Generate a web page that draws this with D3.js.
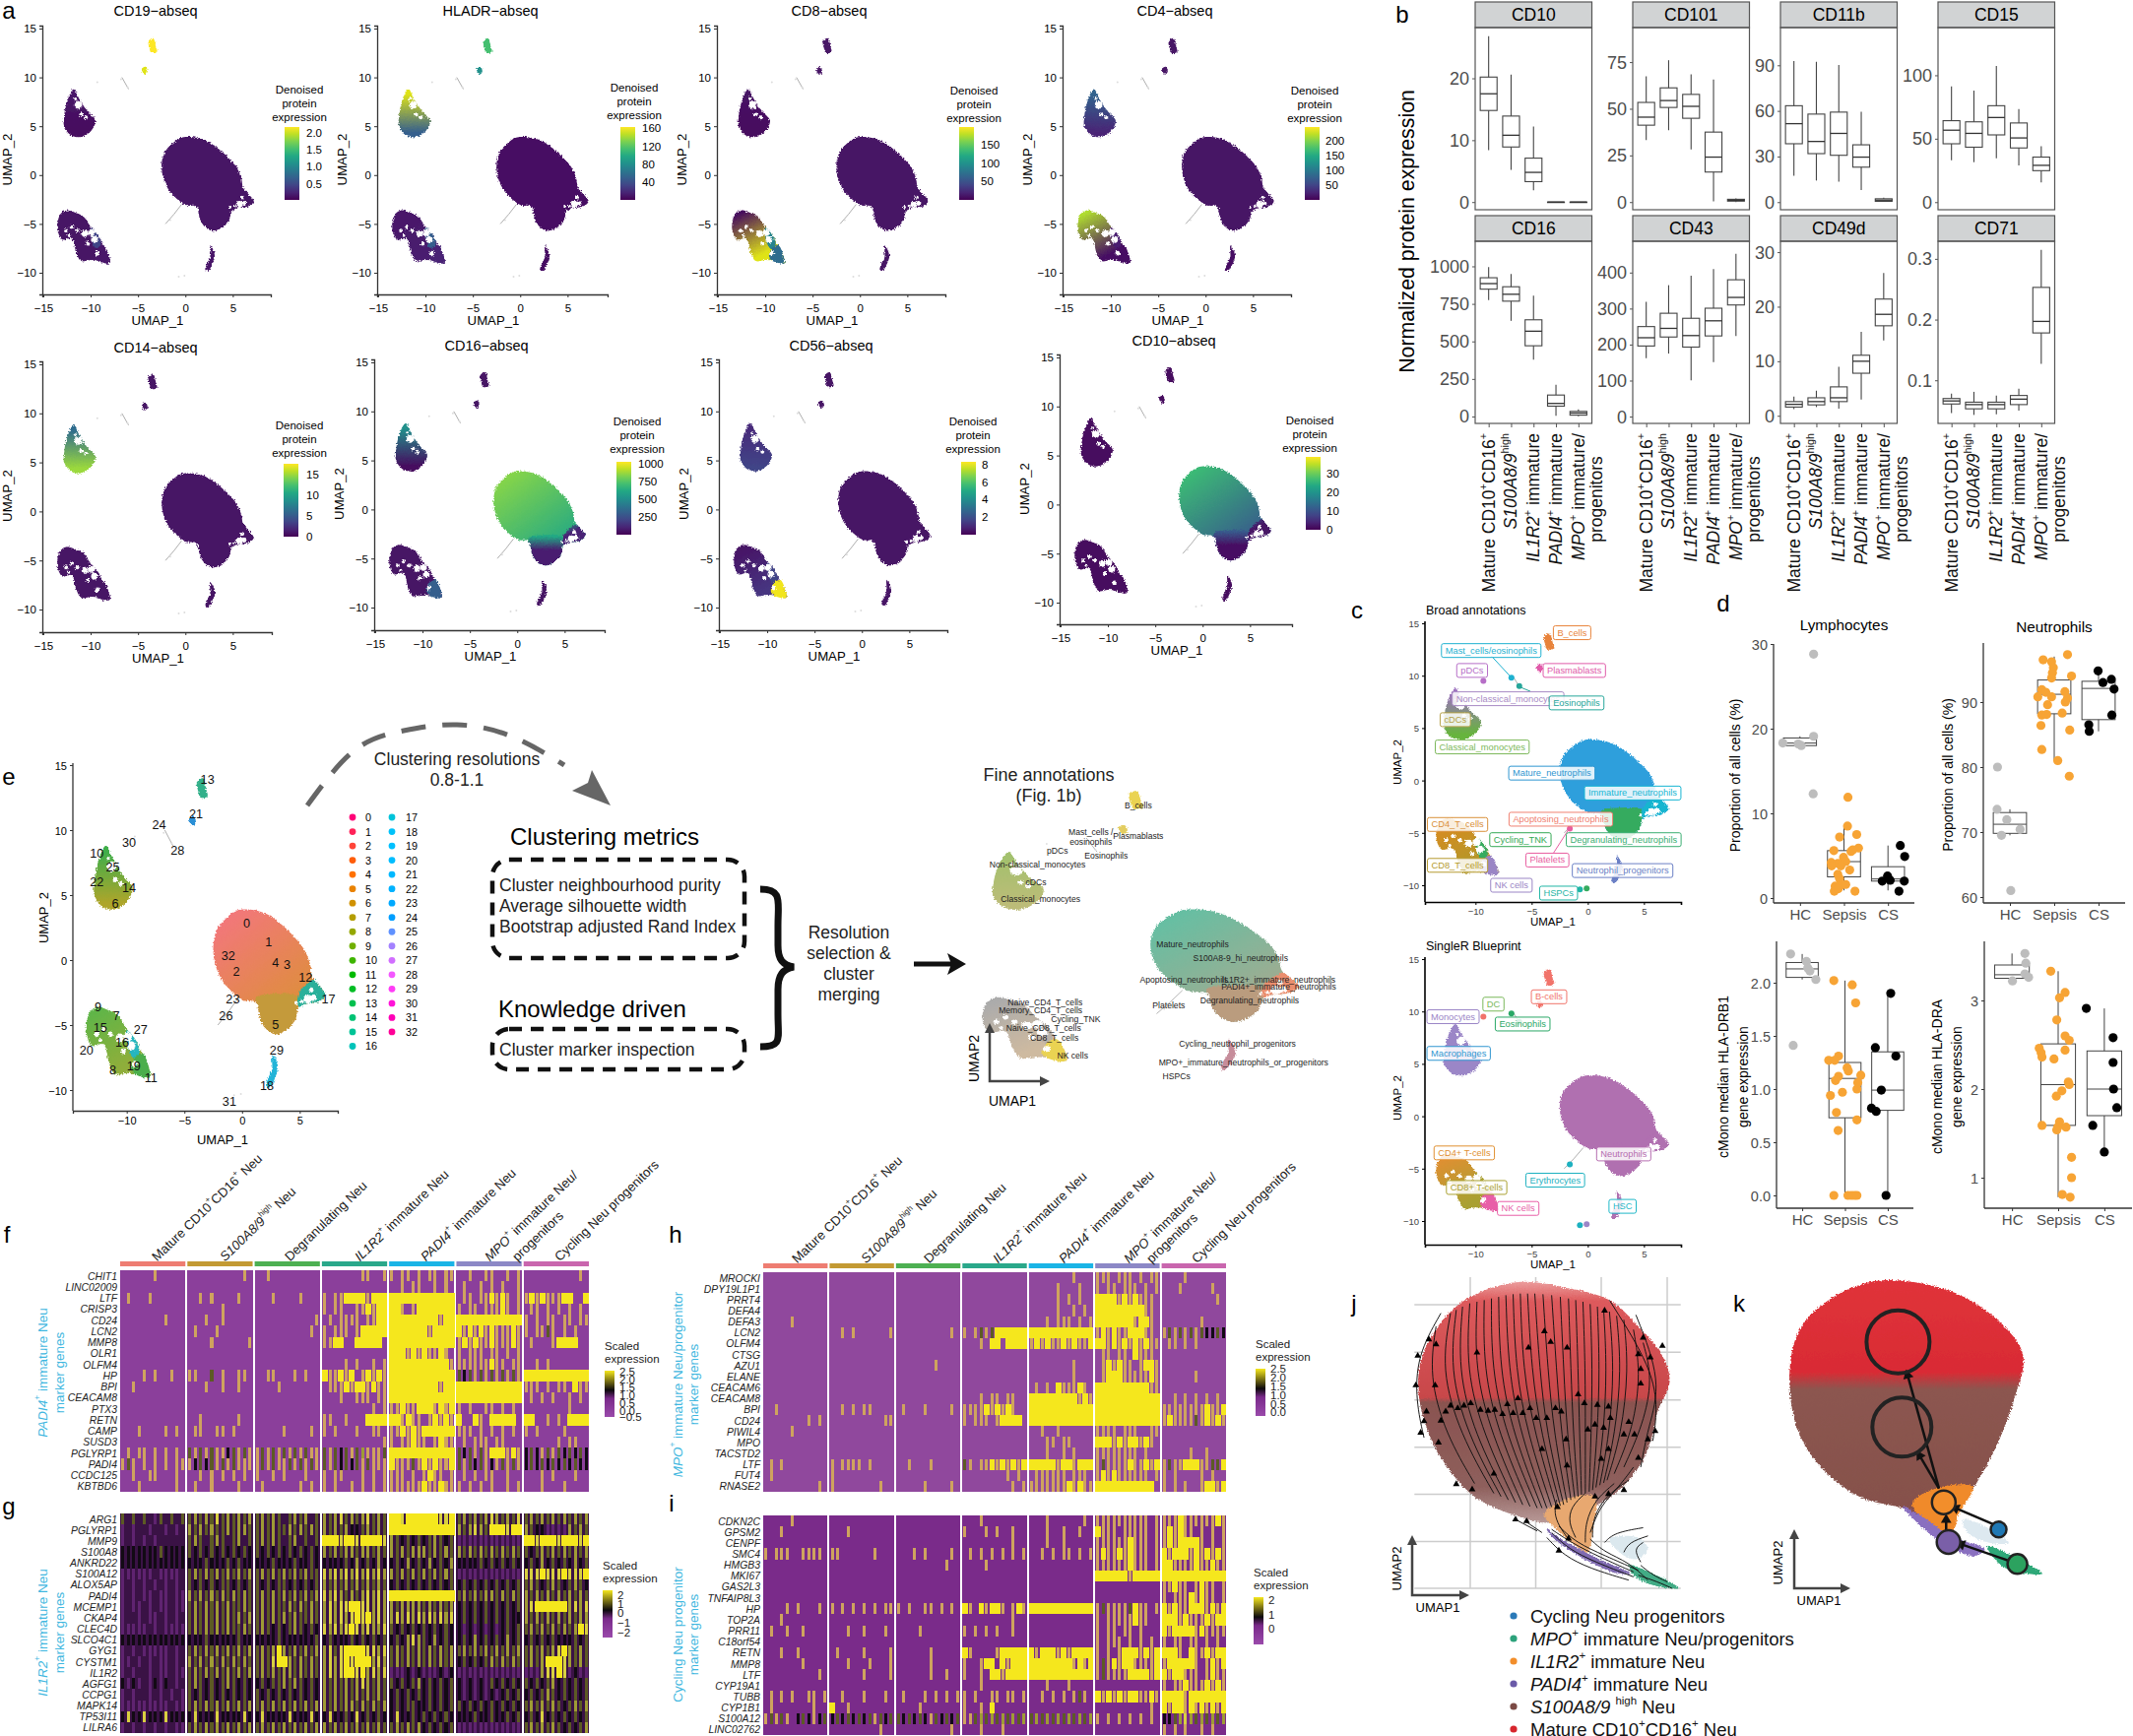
<!DOCTYPE html>
<html>
<head>
<meta charset="utf-8">
<script src="https://cdn.jsdelivr.net/npm/d3@7"></script>
<style>
  body { margin: 0; background: #fff; }
  svg { display: block; font-family: "Liberation Sans", Arial, sans-serif; }
  text { dominant-baseline: central; }
</style>
</head>
<body>
<svg id="fig" width="2166" height="1763"></svg>
<script>
// ---------- panel a: marker UMAPs
const markerNames = ["CD19", "HLADR", "CD8", "CD4", "CD14", "CD16", "CD56", "CD10"];
const markerTicks = [[0.5, 1, 1.5, 2], [40, 80, 120, 160], [50, 100, 150], [50, 100, 150, 200], [0, 5, 10, 15], [250, 500, 750, 1000], [2, 4, 6, 8], [0, 10, 20, 30]];
const markerTickFormat = [".1f", "d", "d", "d", "d", "d", "d", "d"];
const markerDomains = [[.03, 2.16], [0, 163], [0, 199], [0, 247], [0, 17.7], [0, 1030], [0, 8.3], [0, 39.2]];
// order follows regionNames below, value is position on viridis
const regionNames = ["neutTop", "neutLow", "degran", "tail", "monoTop", "monoLow", "tTop", "tLow", "cyc", "nk", "b", "plasma", "prog"];
const markerShades = [
  [.05, .05, .05, .05, .06, .03, .05, .05, .2, .06, 1, .95, .06],
  [.04, .04, .04, .04, .95, .3, .06, .08, .3, .1, .7, .5, .04],
  [.05, .05, .05, .05, .05, .03, .03, .95, .45, .35, .05, .05, .05],
  [.05, .05, .05, .05, .32, .1, .88, .04, .08, .04, .05, .05, .04],
  [.05, .05, .05, .05, .35, .85, .05, .05, .05, .05, .05, .05, .05],
  [.82, .6, .08, .1, .5, .03, .05, .05, .05, .3, .05, .05, .05],
  [.05, .05, .05, .05, .12, .2, .05, .15, .2, .98, .05, .05, .05],
  [.68, .28, .04, .05, .03, .03, .03, .03, .03, .03, .03, .03, .03]
];

// UMAP outlines
const outlineNeut = [[.5, 3.9], [2, 3.6], [3.2, 2.9], [4.4, 1.9], [5.4, .8], [5.9, -.3], [6.1, -1.3], [6.6, -1.9], [7.2, -2.7], [6.6, -3.2], [5.4, -3.4], [4.9, -3.6], [4.6, -4.6], [3.8, -5.4], [2.9, -5.7], [2.1, -5.3], [1.6, -4.6], [1.4, -3.8], [1.1, -3.2], [.1, -3.1], [-.7, -2.6], [-1.7, -1.6], [-2.3, -.4], [-2.5, 1], [-2.2, 2.3], [-1.4, 3.2], [-.5, 3.8]];
const outlineDegran = [[1.2, -2.9], [3, -2.6], [4.8, -2.8], [4.8, -3.7], [4.6, -4.6], [3.8, -5.4], [2.9, -5.7], [2.1, -5.3], [1.6, -4.6], [1.4, -3.8]];
const outlineTail = [[4.9, -2.6], [5.6, -1.9], [6.2, -1.5], [6.6, -1.9], [7.2, -2.7], [6.6, -3.2], [5.4, -3.4], [4.9, -3.6]];
const outlineMono = [[-11.8, 8.8], [-11.2, 7.8], [-10.4, 6.6], [-9.5, 5.6], [-9.9, 4.6], [-11, 3.9], [-12.1, 4.1], [-12.8, 5], [-12.8, 6], [-12.5, 7.5]];
const outlineT = [[-13.2, -4], [-12.5, -3.6], [-11.5, -3.9], [-10.8, -4.2], [-10, -5.3], [-9.2, -6.2], [-8.8, -7], [-8.1, -8.2], [-8, -9], [-9, -8.8], [-10, -8.7], [-11, -8.8], [-11.5, -8], [-12, -6.5], [-13, -6.6], [-13.5, -5.5]];
const outlineCyc = [[-10, -5.4], [-9.2, -6.2], [-8.9, -7], [-9.3, -7.6], [-9.8, -7]];
const outlineNk = [[-9.2, -7.4], [-8.6, -7.2], [-8.1, -8.2], [-8, -9], [-9, -8.9], [-9.6, -8.4]];
const outlineB = [[-3.9, 13.7], [-3.4, 14], [-3.1, 13.1], [-3, 12.6], [-3.6, 12.5], [-3.8, 13]];
const outlinePlasma = [[-4.6, 10.9], [-4.2, 11.1], [-4, 10.6], [-4.3, 10.3]];
const outlineProg = [[2.6, -7.2], [2.9, -7.6], [3.1, -8.3], [2.8, -9.2], [2.4, -9.8], [2.1, -9.7], [2.3, -9], [2.6, -8.4], [2.6, -7.8]];
const umapHoles = [[-11.3, 7.2, .4], [-11, 6.2, .2], [-10.5, 5.9, .2], [-11.6, 7.8, .15], [-12, -5.3, .2], [-12.6, -5.7, .2], [-11.4, -5.7, .2], [-10.6, -6, .35], [-9.9, -5.9, .35], [-9.6, -6.6, .35], [-10.3, -7, .22], [-9.3, -8, .25], [-12.3, -6.2, .15], [5.7, -3, .35], [6.2, -2.9, .25], [6, -2.3, .2], [5.2, -3.2, .15], [1.3, -3.5, .12], [4.7, -3.3, .15]];
const umapDots = [[-9.3, 9.5], [-6.8, 9.8], [-6.1, 9], [-1.6, -4.6], [-.7, -10.4], [-.1, -10.3]];
const umapWisps = [[[-6.7, 10], [-6, 8.8]], [[-2.1, -5], [-1.2, -4], [-.4, -3]]];

// panel c, e fills in regionNames order
const fillsBroad = ["#2f9fdc", "#2f9fdc", "#35ab5e", "#17b5d0", "#9c72be", "#66b43c", "#d98a20", "#b2982a", "#35ab5e", "#9a85c5", "#e8833a", "#e05aa9", "#6a7fc5"];
const fillsBlueprint = ["#b06fb0", "#b06fb0", "#b06fb0", "#b06fb0", "#9b86c7", "#9b86c7", "#e08f30", "#a9a030", "#a9a030", "#e85fa8", "#f1736a", "#f1736a", "#b06fb0"];
const fillsClusters = ["#f2777a", "#dd8f3a", "#c49a3a", "#29b09a", "#3fae4a", "#aea52a", "#5fb548", "#8fae3a", "#27b6c0", "#4cae4c", "#33b08a", "#2a8fd6", "#22b4d8"];
const fillsFine = ["#55b899", "#9aa284", "#b39271", "#e9825f", "#9abb5e", "#b5b56a", "#a3a3a3", "#c9b396", "#b0a8a0", "#e8cf40", "#e8cf40", "#e0c850", "#c08090"];
const dotsBroad = ["#b66ec7", "#1fb1d0", "#26a69a", "#e85ea0", "#1fb5a5", "#35ab5e"];
const dotsBlueprint = ["#f1736a", "#2aa866", "#2aa866", "#1db1c0", "#1db1c0", "#9b86c7"];

const labelsBroad = [["B_cells", -1.4, 14.1, "#e8833a"], ["Mast_cells/eosinophils", -8.6, 12.4, "#1fb1d0"], ["pDCs", -10.3, 10.5, "#b66ec7"], ["Plasmablasts", -1.2, 10.5, "#e05aa9"], ["Non-classical_monocytes", -7.1, 7.8, "#a889c4"], ["Eosinophils", -1, 7.4, "#26a69a"], ["cDCs", -11.8, 5.8, "#b5a24a"], ["Classical_monocytes", -9.4, 3.2, "#7cb85a"], ["Mature_neutrophils", -3.2, .7, "#2f96d0"], ["Immature_neutrophils", 4, -1.2, "#17b5d2"], ["Apoptosing_neutrophils", -2.4, -3.7, "#f08070"], ["CD4_T_cells", -11.6, -4.2, "#d9903a"], ["Cycling_TNK", -6, -5.65, "#33a853"], ["Degranulating_neutrophils", 3.2, -5.65, "#3aae72"], ["CD8_T_cells", -11.6, -8.1, "#b59a2e"], ["Platelets", -3.6, -7.6, "#e85ea0"], ["Neutrophil_progenitors", 3.1, -8.6, "#6a7fc5"], ["NK cells", -6.8, -10, "#9a85c5"], ["HSPCs", -2.6, -10.75, "#1fb5a5"]];
const linksBroad = [[[-8.6, 11.9], [-6.7, 9.7], "#1fb1d0"], [[-6, 8.9], [-5.1, 8.5], "#26a69a"], [[-3.1, -7], [-1.6, -4.5], "#e85ea0"]];
const labelsBlueprint = [["B-cells", -3.45, 11.4, "#f1736a"], ["DC", -8.4, 10.7, "#7ab85a"], ["Monocytes", -12, 9.5, "#9b86c7"], ["Eosinophils", -5.8, 8.8, "#2aa866"], ["Macrophages", -11.5, 6, "#2f96d0"], ["Neutrophils", 3.2, -3.6, "#b56db0"], ["CD4+ T-cells", -11, -3.5, "#e08f30"], ["CD8+ T-cells", -9.9, -6.8, "#a9a030"], ["Erythrocytes", -2.9, -6.1, "#1db1c0"], ["NK cells", -6.2, -8.8, "#e85fa8"], ["HSC", 3.1, -8.6, "#1fb8c8"]];

// ---------- panel e
const clusterLabels = [["0", .4, 2.8], ["1", 2.3, 1.4], ["32", -1.2, .3], ["4", 2.9, -.25], ["3", 3.9, -.4], ["2", -.5, -.9], ["12", 5.5, -1.4], ["17", 7.5, -3], ["23", -.8, -3], ["26", -1.4, -4.3], ["5", 2.9, -5], ["29", 3, -7], ["18", 2.15, -9.7], ["31", -1.1, -10.9], ["13", -3, 13.9], ["21", -4, 11.2], ["24", -7.2, 10.4], ["28", -5.6, 8.4], ["30", -9.8, 9], ["10", -12.6, 8.2], ["25", -11.2, 7.1], ["22", -12.6, 6], ["14", -9.8, 5.5], ["6", -11, 4.3], ["9", -12.5, -3.6], ["7", -10.9, -4.3], ["15", -12.3, -5.2], ["27", -8.8, -5.4], ["16", -10.4, -6.4], ["20", -13.5, -7], ["19", -9.4, -8.2], ["8", -11.2, -8.5], ["11", -7.9, -9.1]];
const fineLabels = [["B_cells", -3.3, 12.8], ["Mast_cells /", -6.4, 10.5], ["eosinophils", -6.4, 9.7], ["Plasmablasts", -3.3, 10.2], ["pDCs", -8.6, 8.9], ["Eosinophils", -5.4, 8.5], ["Non-classical_monocytes", -9.9, 7.7], ["cDCs", -10, 6.2], ["Classical_monocytes", -9.7, 4.8], ["Mature_neutrophils", .26, .9], ["S100A8-9_hi_neutrophils", 3.4, -.25], ["Apoptosing_neutrophils", -.3, -2.1], ["IL1R2+_immature_neutrophils", 5.9, -2.1], ["PADI4+_immature_neutrophils", 5.9, -2.7], ["Degranulating_neutrophils", 4, -3.9], ["Platelets", -1.3, -4.3], ["Naive_CD4_T_cells", -9.4, -4], ["Memory_CD4_T_cells", -9.7, -4.7], ["Cycling_TNK", -7.4, -5.5], ["Naive_CD8_T_cells", -9.5, -6.2], ["CD8_T_cells", -8.8, -7.1], ["NK cells", -7.6, -8.6], ["Cycling_neutrophil_progenitors", 3.2, -7.6], ["MPO+_immature_neutrophils_or_progenitors", 3.6, -9.2], ["HSPCs", -.8, -10.3]];

// ---------- panel b: boxes are [low, q1, median, q3, high]
const facetNames = ["CD10", "CD101", "CD11b", "CD15", "CD16", "CD43", "CD49d", "CD71"];
const facetDomains = [[-1.24, 28.2], [-4.1, 93.5], [-5, 114.8], [-6, 137.6], [-46, 1167], [-19, 487], [-1.4, 32], [.029, .329]];
const facetTicks = [[0, 10, 20], [0, 25, 50, 75], [0, 30, 60, 90], [0, 50, 100], [0, 250, 500, 750, 1000], [0, 100, 200, 300, 400], [0, 10, 20, 30], [.1, .2, .3]];
const boxCD10 = [[8.4, 14.8, 17.5, 20.2, 26.8], [5.2, 8.9, 10.8, 13.9, 20.6], [1.9, 3.3, 4.8, 7.1, 12.2], [0, 0, 0, 0, 0], [0, 0, 0, 0, 0]];
const boxCD101 = [[33.2, 41.2, 45.5, 53.4, 67.4], [38.5, 50.7, 54.4, 61.2, 76], [28.2, 44.9, 51.3, 57.7, 68.4], [.4, 16.1, 24.1, 37.5, 65.7], [0, .5, 1, 1.5, 2]];
const boxCD11b = [[17.4, 38.4, 51.6, 63.4, 92.8], [14.2, 31.9, 39.9, 57.9, 92.3], [13.4, 30.8, 45.2, 59.2, 90.2], [8, 23, 29.6, 37.7, 59.4], [.2, .5, 1.3, 2.2, 3]];
const boxCD15 = [[33, 46, 56.7, 64.2, 91.2], [31.5, 43.3, 54.2, 63.3, 87.9], [34.5, 53, 66.7, 76, 107.3], [29, 42.7, 50.6, 62.4, 73.3], [15.5, 24.8, 29, 35.5, 44]];
const boxCD16 = [[775, 848, 885, 924, 995], [637, 768, 814, 864, 949], [379, 471, 568, 644, 805], [5, 69, 87, 143, 211], [2, 9, 23, 34, 48]];
const boxCD43 = [[162, 196, 219, 250, 319], [175, 221, 245, 287, 365], [101, 193, 225, 273, 391], [151, 224, 266, 301, 410], [224, 310, 331, 380, 452]];
const boxCD49d = [[1.2, 1.6, 2.1, 2.6, 3.5], [1.6, 2, 2.6, 3.3, 4.6], [1.3, 2.6, 3.3, 5.3, 9], [3, 7.8, 10, 11.1, 15.4], [13.8, 16.5, 18.6, 21.4, 26.2]];
const boxCD71 = [[.046, .061, .066, .070, .078], [.043, .053, .060, .064, .081], [.044, .053, .060, .064, .075], [.050, .060, .069, .075, .086], [.127, .178, .197, .253, .315]];
const facetBoxes = [boxCD10, boxCD101, boxCD11b, boxCD15, boxCD16, boxCD43, boxCD49d, boxCD71];
const facetCats = ["Mature", "S100", "IL1R2", "PADI4", "MPO"];
const facetCatLabels = ["Mature CD10^+^CD16^+^", "*S100A8/9*^high^", "*IL1R2*^+^ immature", "*PADI4*^+^ immature", "*MPO*^+^ immature/"];

// ---------- panel d: points are [offset inside the category, value]
const groupCats = ["HC", "Sepsis", "CS"];
const groupColours = ["#bdbdbd", "#f7a435", "#000000"];
const lymphPts = [
  [[-.39, 18.3], [-.04, 18.2], [.03, 18], [.31, 19.1], [.3, 12.3], [.31, 28.8]],
  [[.09, 11.9], [.08, 8.5], [-.1, 7.2], [.29, 7.5], [-.23, 5.6], [.33, 5.9], [.16, 5.5], [-.01, 4.8], [-.29, 4.2], [-.14, 4.1], [.04, 4.3], [-.28, 3.8], [-.07, 3.8], [.13, 3.3], [-.14, 2.8], [-.1, 2.3], [-.2, 1.4], [-.07, 1.5], [.04, 1.6], [-.22, .8], [.25, .8], [-.13, 1.1], [.2, 5.7]],
  [[.28, 6.2], [.38, 4.9], [-.13, 2], [-.01, 2.6], [.05, 2.1], [.37, 2], [.25, .8]]
];
const lymphBox = [[17.9, 18, 18.3, 18.9, 19.1], [.9, 2.5, 4.3, 5.6, 8.5], [.9, 2, 2.25, 3.7, 6.2]];
const neutPts = [
  [[-.28, 80], [-.29, 73.5], [-.07, 71.9], [.23, 70.4], [-.19, 69.5], [.02, 61]],
  [[.3, 97.3], [-.25, 96.5], [-.06, 96.2], [-.02, 95.3], [-.04, 94.5], [-.06, 93.7], [.39, 94], [-.28, 91.9], [-.19, 91.5], [-.37, 90.8], [-.06, 90.8], [.24, 91.6], [.3, 90.6], [-.15, 89.6], [.25, 90], [-.28, 88], [-.17, 88.1], [.18, 88.3], [-.3, 86.4], [.35, 85.7], [-.28, 82.7], [.08, 81], [.34, 78.6]],
  [[-.01, 94.8], [.29, 93.5], [.1, 93], [.35, 92], [.3, 88], [-.22, 86.5], [-.21, 85.5]]
];
const neutBox = [[69.5, 69.8, 71.2, 73, 73.5], [81, 88.2, 91.2, 93.4, 97], [85.5, 87.3, 92.1, 93.2, 94.8]];
const drb1Pts = [
  [[-.27, 2.27], [.1, 2.2], [.13, 2.14], [.18, 2.11], [.32, 2.03], [-.21, 1.41]],
  [[-.26, 2.02], [.17, 1.98], [.25, 1.81], [-.15, 1.31], [-.38, 1.27], [-.24, 1.27], [.05, 1.2], [.08, 1.17], [-.15, 1.12], [.37, 1.13], [-.22, 1.08], [.3, 1.06], [.28, 1], [-.06, .97], [-.34, .94], [-.2, .78], [.28, .71], [-.16, .61], [-.26, 0], [.07, 0], [.15, 0], [.22, 0], [.28, 0]],
  [[.07, 1.9], [-.29, 1.39], [.19, 1.31], [-.15, .99], [-.38, .82], [-.27, .79], [-.04, 0]]
];
const drb1Box = [[2.03, 2.05, 2.13, 2.19, 2.27], [0, .73, 1.1, 1.25, 2.02], [0, .8, .99, 1.35, 1.9]];
const draPts = [
  [[.28, 3.53], [.3, 3.42], [.28, 3.3], [.36, 3.26], [.01, 3.22]],
  [[-.16, 3.33], [.15, 3.09], [.03, 3.03], [-.03, 2.78], [.15, 2.6], [.24, 2.55], [-.41, 2.46], [-.37, 2.41], [-.35, 2.36], [.15, 2.44], [-.09, 2.34], [.22, 2.08], [.24, 2.05], [.08, 1.98], [-.04, 1.92], [-.35, 1.59], [.03, 1.63], [-.01, 1.57], [.17, 1.57], [-.03, 1.54], [.29, 1.23], [.29, 1], [.09, .81], [.26, .78]],
  [[-.39, 2.91], [.19, 2.58], [.19, 2.3], [.2, 2], [.27, 1.79], [-.25, 1.59], [0, 1.29]]
];
const draBox = [[3.22, 3.25, 3.29, 3.4, 3.53], [.78, 1.59, 2.05, 2.51, 3.33], [1.29, 1.7, 2, 2.43, 2.91]];

// ---------- heatmaps, one string per gene, one block per cell group, read left to right
// 0 row colour, 1 purple, 2 black, 3 olive, 4 bright olive, 5 tan, 6 pale yellow, 7 yellow
const heatGroups = ["Mature CD10^+^CD16^+^ Neu", "*S100A8/9*^high^ Neu", "Degranulating Neu", "*IL1R2*^+^ immature Neu", "*PADI4*^+^ immature Neu", "*MPO*^+^ immature Neu/", "Cycling Neu progenitors"];
const heatGroupColours = ["#ee7d72", "#c39a33", "#4db052", "#2aa88a", "#1ab4e6", "#8c88c6", "#c966ae"];
const genesF = ["CHIT1", "LINC02009", "LTF", "CRISP3", "CD24", "LCN2", "MMP8", "OLR1", "OLFM4", "HP", "BPI", "CEACAM8", "PTX3", "RETN", "CAMP", "SUSD3", "PGLYRP1", "PADI4", "CCDC125", "KBTBD6"];
const levelsF = [
  "000000500000 000000000050 005000000000 000000055005 505505055055 005005500505 000000000050",
  "0 0 0 0 005055005050 050050505005 0",
  "050005000000 005050000500 000500005000 505577775777 777777777777 055055757505 575755577007",
  "0 000000500000 000000000000 505500557577 775057777777 505505557505 055050505050",
  "000000005000 000500500000 000000000005 050555505577 777777777577 777777777777 505055055055",
  "0 050005000000 000000000050 505550577777 777777757777 757575755575 505535050500",
  "0 000050000005 0 557700777770 777777777777 575755755575 050005777700",
  "0 0 0 0 777575755750 505550550505 0",
  "0 0 0 000050500505 777777777775 555555755055 005050000000",
  "000050500500 550030500550 005500050500 755757057575 777777777777 323535353535 777777777777",
  "005000000000 000500500500 000050000000 055575775755 777777777577 777777777777 555050550755",
  "0 0 0 000500555055 777777777777 777777777777 050505005050",
  "0 0 0 000000000505 557557775757 505005505050 000000005000",
  "0 005000000500 000000000000 550050007777 775755057575 700750777770 770050507777",
  "000500005050 055005505000 000005000050 505000500550 557575777777 555050505050 505000050000",
  "0 0 0 000000000005 505575505755 050555055000 000000505500",
  "050550505050 353535523535 535353535355 353235345553 777777777777 323535777575 232535323232",
  "535050505055 523235353555 535355353535 353232353555 755535757557 353235253535 232323232322",
  "005005500050 005050505050 500505000500 505500050505 555050575505 050505500500 000505000500",
  "000500000050 050050000500 050000005050 505005050505 555555755755 505050500505 000500050000"
];
const genesG = ["ARG1", "PGLYRP1", "MMP9", "S100A8", "ANKRD22", "S100A12", "ALOX5AP", "PADI4", "MCEMP1", "CKAP4", "CLEC4D", "SLCO4C1", "GYG1", "CYSTM1", "IL1R2", "AGFG1", "CCPG1", "MAPK14", "TP53I11", "LILRA6"];
const levelsG = [
  "303030130303 343436343434 343430343403 434634346343 776777777667 343434643436 343434343434",
  "101001001010 434343343443 343433434343 434342234343 777777777777 434643777677 432211114343",
  "101010100000 343034303403 343430340303 777677677776 432323234323 111111111111 776777677767",
  "222222232222 323232323232 323232323232 434344344343 434344434343 434343434343 323434343434",
  "222222222222 222322232322 222322232232 222232423242 232423242324 222232323232 232423232423",
  "111111011110 343434343434 343434343433 646464646464 434343434343 111111111111 666766676667",
  "101010101010 323232332323 323233232323 434343434343 232323232323 232323232323 343234323432",
  "101011011011 434343434343 343434343434 646434346464 777777777777 343434434343 434343434343",
  "101101011011 343434343343 343433434343 464667766464 434444343434 232323232323 467777774646",
  "100101101010 343434343434 343434343343 464646767464 464646464646 232323232322 434343434344",
  "111110101111 343434343343 343232343232 646467646446 323232323232 212121212323 343434343476",
  "222222222222 222322222322 222232222223 232223232323 232464324232 232423232423 232323222323",
  "101011111010 343434343434 343474343434 463677776646 343434343434 343434343434 343434674343",
  "110101011010 434343434343 343677434343 464676777464 343434343434 232323434343 343477764343",
  "101001011011 343434343434 343434434343 464677674646 111212111212 111111111111 111466761211",
  "212101212010 343232343232 232334343232 434343464343 323234232323 212121323232 323234232323",
  "101001010101 323232323232 323232323232 434343434343 232323232323 212121212323 232343232323",
  "111111111011 343434343434 343434343434 434344343434 232332232323 323232323232 343434323434",
  "262262226222 262226222262 262222622262 262232623232 262232323232 222322322323 232623232323",
  "101010101011 343434343434 343434343434 434343434343 343434232323 111111111111 343434323234"
];
const genesH = ["MROCKI", "DPY19L1P1", "PRRT4", "DEFA4", "DEFA3", "LCN2", "OLFM4", "CTSG", "AZU1", "ELANE", "CEACAM6", "CEACAM8", "BPI", "CD24", "PIWIL4", "MPO", "TACSTD2", "LTF", "FUT4", "RNASE2"];
const levelsH = [
  "0 0 0 0 000000005000 555055505055 000050000000",
  "0 0 0 0 000005000500 505505550505 000500000500",
  "0 0 0 0 000005050500 777757575550 000000000050",
  "0 0 0 0 000005005050 777777777550 000000000000",
  "000005000000 0 0 0 000505550505 777777757750 000000050000",
  "0 005050000005 000000000050 505353777777 777777777777 575755777550 535353532232",
  "0 0 0 000507707777 575755757557 775757575755 055050500000",
  "0 0 0 0 0 055055075550 000000000000",
  "0 0 000000050000 0 000000005000 057575505775 000000000000",
  "0 0 0 0 000000005000 057775555575 000000500000",
  "0 0 0 0 050507555750 777777777755 000000000000",
  "0 0 0 000505505500 777777777575 777777777777 005050505050",
  "005000000000 005050550000 050005000050 555575757500 777777777777 777777777777 555555557557",
  "000000005050 000000000055 000000000000 505550577770 777777777777 777777777777 575555357575",
  "000005000000 0 0 0 005005000000 555505550055 000000000000",
  "0 0 0 0 000550550000 777575775750 000000000000",
  "0 0 0 0 000500505000 555555550500 000005005000",
  "050500000000 505555050000 005000500000 350557575757 777775775777 535555755757 535577755337",
  "050000000000 500000000000 000000000000 000000005050 055555505550 575755555505 505000050500",
  "000000000050 500000000500 000005000050 000000000505 555555575755 777777777770 505050057757"
];
const genesI = ["CDKN2C", "GPSM2", "CENPF", "SMC4", "HMGB3", "MKI67", "GAS2L3", "TNFAIP8L3", "HP", "TOP2A", "PRR11", "C18orf54", "RETN", "MMP8", "LTF", "CYP19A1", "TUBB", "CYP1B1", "S100A12", "LINC02762"];
const levelsI = [
  "000005000000 0 0 000500000000 000500000050 555555555505 555755555575",
  "000500000000 000500000000 0 500050500500 000500500500 755505555505 575755050505",
  "0 0 0 000000000500 000500500000 555555755505 575777750505",
  "505550055550 550000005000 000505000050 050505050505 005050550505 575575755505 757775757575",
  "0 0 000000000500 000050000000 0 555555755505 775555755755",
  "0 0 0 0 000000000000 777777577777 777777777777",
  "0 0 0 0 0 0 557550575505",
  "0 0 0 0 0 0 505557575505",
  "000050500050 505050505055 505005505050 750757750575 777777777777 535555375505 757557775757",
  "000500000000 0 0 000000000500 0 505555575500 777575557577",
  "050050050000 000500500050 000050000000 505050500500 0 505505505000 757777575555",
  "0 0 0 0 0 505550505050 505505505050",
  "000500500000 050000500005 000000500000 750000577777 757775757777 505057775757 777507557577",
  "000000050000 000500050005 000000500000 500577075777 777777775757 535757755557 577777505757",
  "000000000050 000000500005 000000500500 500507757777 777777777777 535555777757 757755505755",
  "0 0 0 000500000000 000500050000 000000000000 505575557575",
  "050505005505 005000500050 050005050505 505005505505 005050505350 757575775575 777757777777",
  "050000000500 700500000000 000050000000 500507000000 000000000000 000000000050 757757575757",
  "535350232523 232323235323 323232532323 553434343434 343434343434 505050505050 223464343434",
  "0 000000000500 000000000050 000500050000 000000000000 000000000000 505050050500"
];

// ---------- panels j, k: values are in plot reading units
const trajOutline = [[290, 35], [400, 55], [480, 90], [540, 170], [590, 260], [605, 340], [580, 430], [570, 500], [545, 590], [500, 670], [450, 720], [400, 745], [350, 770], [290, 750], [200, 690], [130, 570], [90, 430], [85, 300], [115, 190], [180, 90]];
const trajOrange = [[345, 745], [395, 695], [450, 690], [445, 790], [435, 860], [400, 830], [370, 790]];
const trajPurple = [[350, 790], [380, 820], [450, 875], [525, 925], [500, 925], [440, 890], [370, 825]];
const trajGreen = [[520, 900], [570, 925], [625, 970], [570, 960], [530, 930]];
const trajBlue = [[480, 820], [540, 815], [560, 850], [540, 880], [510, 870]];
const streamLines = [
  [[200, 650], [140, 500], [105, 320], [120, 170]], [[240, 680], [170, 500], [130, 300], [150, 130]], [[270, 700], [200, 500], [165, 300], [175, 110]],
  [[300, 715], [235, 500], [200, 300], [205, 95]], [[330, 725], [265, 500], [235, 300], [235, 85]], [[350, 725], [295, 500], [270, 300], [265, 75]],
  [[370, 720], [325, 500], [300, 300], [295, 70]], [[385, 715], [350, 500], [335, 300], [325, 70]], [[400, 700], [380, 500], [370, 300], [360, 75]],
  [[415, 690], [405, 500], [400, 300], [395, 85]], [[430, 680], [430, 500], [430, 300], [425, 95]], [[445, 670], [455, 500], [460, 300], [455, 110]],
  [[460, 655], [480, 500], [490, 300], [480, 125]], [[475, 640], [505, 500], [520, 300], [510, 150]], [[490, 620], [530, 480], [545, 310], [530, 180]],
  [[510, 600], [550, 470], [570, 330], [550, 220]], [[255, 690], [185, 500], [148, 300], [162, 120]], [[285, 708], [218, 500], [182, 300], [190, 100]],
  [[315, 720], [250, 500], [218, 300], [220, 90]], [[340, 725], [280, 500], [252, 300], [250, 80]], [[360, 722], [310, 500], [285, 300], [280, 72]],
  [[378, 718], [338, 500], [318, 300], [310, 70]], [[392, 708], [365, 500], [352, 300], [342, 72]], [[408, 695], [392, 500], [385, 300], [378, 80]],
  [[422, 685], [418, 500], [415, 300], [410, 90]], [[438, 675], [442, 500], [445, 300], [440, 102]], [[452, 662], [468, 500], [475, 300], [468, 118]],
  [[468, 648], [492, 500], [505, 300], [495, 138]], [[360, 800], [395, 850], [450, 890], [530, 935]], [[350, 815], [385, 870], [440, 910], [520, 945]],
  [[360, 790], [400, 830], [460, 875], [530, 920]], [[375, 780], [410, 830], [470, 870], [540, 915]], [[440, 820], [470, 860], [520, 890], [560, 945]],
  [[395, 820], [375, 780], [365, 740], [370, 700]], [[410, 815], [395, 770], [400, 720], [430, 680]], [[430, 830], [430, 770], [450, 700], [490, 650]],
  [[445, 815], [445, 760], [470, 690], [520, 640]], [[440, 800], [460, 720], [500, 660], [530, 600]], [[570, 520], [580, 430], [570, 300], [480, 90]],
  [[545, 600], [560, 480], [590, 340], [535, 135]], [[95, 510], [78, 400], [80, 260], [130, 130]], [[470, 830], [490, 800], [550, 785]],
  [[510, 860], [520, 830], [560, 810]], [[545, 890], [530, 850], [550, 830]], [[600, 950], [570, 930], [545, 900]],
  [[610, 970], [580, 950], [540, 930]], [[285, 760], [330, 795]], [[305, 765], [340, 800]]
];
const streamHeads = [[140, 430], [150, 412], [165, 420], [178, 412], [192, 405], [212, 425], [228, 428], [242, 425], [258, 438], [268, 408], [280, 435], [290, 390], [300, 435], [315, 420], [328, 450], [350, 450], [368, 420], [380, 430], [428, 405], [455, 410], [478, 415], [450, 470], [435, 485], [468, 480], [520, 462], [510, 500], [482, 450], [532, 500], [390, 515], [340, 545], [478, 545], [463, 575], [392, 595], [240, 620], [118, 350], [415, 378], [545, 345], [545, 300], [565, 265], [540, 255], [550, 205], [590, 230], [470, 122], [345, 185], [358, 218], [392, 235], [312, 235], [205, 250], [120, 225], [105, 210], [82, 260], [78, 350], [100, 430], [95, 460], [88, 495], [130, 458], [125, 525], [162, 652], [195, 668], [285, 760], [308, 765], [372, 722], [478, 682], [510, 670], [450, 690], [395, 818], [375, 855], [540, 572], [560, 515], [575, 490]];
const trajGridX = [191, 327, 463, 600];
const trajGridY = [104, 249, 395, 539, 683, 827, 970];

const kOutline = [[1055, 30], [1200, 70], [1300, 170], [1340, 260], [1320, 400], [1280, 550], [1230, 680], [1200, 740], [1150, 770], [1100, 730], [1000, 690], [920, 600], [870, 480], [855, 300], [880, 170], [960, 70]];
const kOrange = [[1110, 710], [1170, 660], [1235, 660], [1205, 745], [1195, 790], [1160, 790]];
const kPurple = [[1090, 720], [1130, 750], [1190, 810], [1260, 850], [1240, 870], [1170, 830]];
const kGreen = [[1265, 840], [1330, 880], [1380, 925], [1300, 905]];
const kWisp = [[1215, 760], [1260, 780], [1310, 830], [1270, 830], [1225, 800]];
const kNodes = [["red", 1080, 218, 32, "none"], ["brown", 1088, 478, 30, "none"], ["orange", 1175, 707, 12, "#f28e2b"], ["blue", 1289, 790, 8, "#1f78b4"], ["purple", 1185, 828, 12, "#7a5fa8"], ["green", 1328, 895, 10, "#2ca25f"]];
const kArrows = [[[1165, 665], [1125, 565]], [[1165, 665], [1100, 320]], [[1280, 775], [1200, 725]], [[1310, 885], [1212, 835]], [[1180, 795], [1180, 760]]];
const trajLegend = ["Cycling Neu progenitors", "*MPO*^+^ immature Neu/progenitors", "*IL1R2*^+^ immature Neu", "*PADI4*^+^ immature Neu", "*S100A8/9* ^high^ Neu", "Mature CD10^+^CD16^+^ Neu"];
const trajLegendColours = ["#2b7ab8", "#2ca27b", "#f28e2b", "#6a5aa8", "#7b4a45", "#d7262d"];

// ---------- helpers
const svg = d3.select("#fig");
const defs = svg.append("defs");
const rough = defs.append("filter").attr("id", "rough").attr("x", "-5%").attr("y", "-5%").attr("width", "110%").attr("height", "110%");
rough.append("feTurbulence").attr("type", "fractalNoise").attr("baseFrequency", .7).attr("numOctaves", 2).attr("seed", 3).attr("result", "n");
rough.append("feDisplacementMap").attr("in", "SourceGraphic").attr("in2", "n").attr("scale", 4).attr("xChannelSelector", "R").attr("yChannelSelector", "G");

function txt(g, x, y, str, o = {}) {
  const t = g.append("text").attr("font-size", o.size || 12).attr("fill", o.fill || "#000").attr("text-anchor", o.anchor || "start");
  if (o.rotate !== undefined) t.attr("transform", `translate(${x},${y}) rotate(${o.rotate})`);
  else t.attr("x", x).attr("y", y);
  if (o.italic) t.attr("font-style", "italic");
  String(str).split(/(\*[^*]+\*|\^[^^]+\^)/).filter(s => s).forEach(s => {
    if (s[0] === "*") t.append("tspan").attr("font-style", "italic").text(s.slice(1, -1));
    else if (s[0] === "^") t.append("tspan").attr("baseline-shift", "super").attr("font-size", "62%").text(s.slice(1, -1));
    else t.append("tspan").text(s);
  });
  return t;
}

// o.off is the distance of x axis labels from the axis, labels are centred by the css baseline
function styleAxis(a, o = {}) {
  a.selectAll("path.domain").attr("stroke", o.line || "#333").attr("stroke-width", o.width || 1.3);
  a.selectAll(".tick line").attr("stroke", o.line || "#333").attr("stroke-width", o.tickWidth || 1);
  const labels = a.selectAll(".tick text").attr("font-size", o.size || 11.5).attr("fill", o.fill || "#000").attr("font-family", null).attr("dy", 0);
  if (o.off !== undefined) labels.attr("y", o.off);
}

let gradId = 0;
function grad(a, b, x2, y2) {
  const id = "g" + (gradId++);
  const lg = defs.append("linearGradient").attr("id", id).attr("x1", 0).attr("y1", 0).attr("x2", x2).attr("y2", y2);
  lg.append("stop").attr("offset", "10%").attr("stop-color", a);
  lg.append("stop").attr("offset", "90%").attr("stop-color", b);
  return `url(#${id})`;
}

function drawCells(parent, x, y, fills, dotFills, dotR = 2, soft = false) {
  const g = parent.append("g").attr("filter", "url(#rough)");
  const f = {};
  regionNames.forEach((n, i) => { f[n] = fills[i]; });
  const blob = d3.line().x(d => x(d[0])).y(d => y(d[1])).curve(d3.curveCatmullRomClosed.alpha(.5));
  g.append("path").attr("d", blob(outlineNeut)).attr("fill", grad(f.neutTop, f.neutLow, .7, 1));
  g.append("path").attr("d", blob(outlineDegran)).attr("fill", soft ? grad(f.neutLow, f.degran, 0, .55) : f.degran);
  g.append("path").attr("d", blob(outlineTail)).attr("fill", soft ? grad(f.neutLow, f.tail, .3, .5) : f.tail);
  g.append("path").attr("d", blob(outlineMono)).attr("fill", grad(f.monoTop, f.monoLow, 0, 1));
  g.append("path").attr("d", blob(outlineT)).attr("fill", grad(f.tTop, f.tLow, .5, 1));
  g.append("path").attr("d", blob(outlineCyc)).attr("fill", f.cyc);
  g.append("path").attr("d", blob(outlineNk)).attr("fill", f.nk);
  g.append("path").attr("d", blob(outlineB)).attr("fill", f.b);
  g.append("path").attr("d", blob(outlinePlasma)).attr("fill", f.plasma);
  g.append("path").attr("d", blob(outlineProg)).attr("fill", f.prog);
  g.selectAll("ellipse").data(umapHoles).join("ellipse")
    .attr("cx", d => x(d[0])).attr("cy", d => y(d[1]))
    .attr("rx", d => Math.abs(x(d[2]) - x(0))).attr("ry", d => Math.abs(y(d[2]) - y(0)))
    .attr("fill", "#fff");
  const wisp = d3.line().x(d => x(d[0])).y(d => y(d[1]));
  parent.selectAll("path.wisp").data(umapWisps).join("path").attr("class", "wisp")
    .attr("d", wisp).attr("fill", "none").attr("stroke", "#999").attr("stroke-width", .8);
  parent.selectAll("circle.dot").data(umapDots).join("circle").attr("class", "dot")
    .attr("cx", d => x(d[0])).attr("cy", d => y(d[1])).attr("r", dotR)
    .attr("fill", (d, i) => dotFills ? dotFills[i] : "#ddd");
}

function drawAxisCorner(g, ox, oy, topY, rightX, t2x, t2y, t1x, t1y, size, col) {
  g.append("path").attr("d", `M${ox},${topY + 8}V${oy}H${rightX - 8}`).attr("fill", "none").attr("stroke", col).attr("stroke-width", 2.5);
  g.append("path").attr("d", `M${ox},${topY}l-5,10h10Z`).attr("fill", col);
  g.append("path").attr("d", `M${rightX},${oy}l-10,-5v10Z`).attr("fill", col);
  txt(g, t2x, t2y, "UMAP2", { size, anchor: "middle", rotate: -90 });
  txt(g, t1x, t1y, "UMAP1", { size, anchor: "middle" });
}

// ---------- a
const aAxisX = [43, 383, 728, 1079, 43, 380, 730, 1076];
const aRight = [275, 617, 960, 1311, 276, 614, 962, 1312];
const a15 = [29, 29, 29, 29, 370, 368, 368, 363];
const aM10 = [277, 277, 277, 277, 619, 617, 617, 612];
const aBottom = [299, 299, 299, 299, 642, 640, 640, 634];
const aTitleY = [11, 11, 11, 11, 353, 351, 351, 346];
const aTitleX = [158, 498, 842, 1193, 158, 494, 844, 1192];
const aLegX = [304, 644, 989, 1335, 304, 647, 988, 1330];
const aLegY = [91, 89, 92, 92, 432, 428, 428, 427];
const aBarX = [289, 630, 974, 1325, 288, 626, 976, 1326];
const aBarY = [129, 129, 129, 129, 471, 469, 469, 464];
const aTickX = [311, 652, 996, 1346, 311, 648, 997, 1347];
markerNames.forEach((name, i) => {
  const g = svg.append("g");
  const unit = (aM10[i] - a15[i]) / 25;
  const x = d3.scaleLinear().domain([-15.1, -15.1 + (aRight[i] - aAxisX[i]) / 9.62]).range([aAxisX[i], aRight[i]]);
  const y = d3.scaleLinear().domain([15, -10]).range([a15[i], aM10[i]]);
  const fills = markerShades[i].map(d3.interpolateViridis);
  drawCells(g, x, y, fills, null, 1, true);
  const ya = g.append("g").attr("transform", `translate(${aAxisX[i]},0)`)
    .call(d3.axisLeft(d3.scaleLinear().domain([15.3, (a15[i] - aBottom[i]) / unit + 15]).range([a15[i] - 3, aBottom[i]])).tickValues([-10, -5, 0, 5, 10, 15]).tickSize(3));
  const xa = g.append("g").attr("transform", `translate(0,${aBottom[i]})`)
    .call(d3.axisBottom(x).tickValues([-15, -10, -5, 0, 5]).tickSize(3));
  styleAxis(ya); styleAxis(xa, { off: 14 });
  txt(g, aTitleX[i], aTitleY[i], `${name}\u2212abseq`, { size: 14.5, anchor: "middle" });
  txt(g, (aAxisX[i] + aRight[i]) / 2 + 1, aBottom[i] + 26, "UMAP_1", { size: 13.2, anchor: "middle" });
  txt(g, aAxisX[i] - 36, (a15[i] + aM10[i]) / 2 + 9, "UMAP_2", { size: 13.2, anchor: "middle", rotate: -90 });
  // colour legend
  ["Denoised", "protein", "expression"].forEach((s, k) => txt(g, aLegX[i], aLegY[i] + k * 14.2, s, { size: 11.5, anchor: "middle" }));
  const barH = 74;
  const lg = defs.append("linearGradient").attr("id", "vir" + i).attr("x1", 0).attr("y1", 1).attr("x2", 0).attr("y2", 0);
  d3.range(0, 1.01, .1).forEach(t => lg.append("stop").attr("offset", t).attr("stop-color", d3.interpolateViridis(t)));
  g.append("rect").attr("x", aBarX[i]).attr("y", aBarY[i]).attr("width", 15).attr("height", barH).attr("fill", `url(#vir${i})`);
  const ls = d3.scaleLinear().domain(markerDomains[i]).range([aBarY[i] + barH, aBarY[i]]);
  const fmt = d3.format(markerTickFormat[i]);
  markerTicks[i].forEach(t => txt(g, aTickX[i], ls(t), fmt(t), { size: 11.5 }));
});

// ---------- b
const fLeft = [1498, 1658, 1808, 1968];
const fWidth = 118.5;
const fTop = [2, 219], fStrip = 26, fBottom = [213, 430];
facetNames.forEach((name, i) => {
  const col = i % 4, row = i < 4 ? 0 : 1;
  const g = svg.append("g");
  const x = d3.scalePoint().domain(facetCats).range([fLeft[col], fLeft[col] + fWidth]).padding(.6);
  const y = d3.scaleLinear().domain(facetDomains[i]).range([fBottom[row], fTop[row] + fStrip]);
  g.append("rect").attr("x", fLeft[col]).attr("y", fTop[row]).attr("width", fWidth).attr("height", fStrip).attr("fill", "#d1d3d4").attr("stroke", "#555").attr("stroke-width", 1.2);
  g.append("rect").attr("x", fLeft[col]).attr("y", fTop[row] + fStrip).attr("width", fWidth).attr("height", fBottom[row] - fTop[row] - fStrip).attr("fill", "none").attr("stroke", "#555").attr("stroke-width", 1.2);
  txt(g, fLeft[col] + fWidth / 2, fTop[row] + fStrip / 2, name, { size: 17.5, anchor: "middle" });
  const ya = g.append("g").attr("transform", `translate(${fLeft[col]},0)`).call(d3.axisLeft(y).tickValues(facetTicks[i]).tickSize(3).tickFormat(d3.format("")));
  ya.select("path.domain").remove();
  styleAxis(ya, { size: 18, fill: "#4d4d4d", line: "#555" });
  const bw = x.step() * .75;
  facetBoxes[i].forEach((s, k) => {
    const cx = x(facetCats[k]);
    g.append("line").attr("x1", cx).attr("x2", cx).attr("y1", y(s[0])).attr("y2", y(s[4])).attr("stroke", "#444").attr("stroke-width", 1.1);
    g.append("rect").attr("x", cx - bw / 2).attr("width", bw).attr("y", y(s[3])).attr("height", Math.max(y(s[1]) - y(s[3]), .5)).attr("fill", "#fff").attr("stroke", "#444").attr("stroke-width", 1.1);
    g.append("line").attr("x1", cx - bw / 2).attr("x2", cx + bw / 2).attr("y1", y(s[2])).attr("y2", y(s[2])).attr("stroke", "#333").attr("stroke-width", 1.3);
  });
  if (row === 1) {
    const xa = g.append("g").attr("transform", `translate(0,${fBottom[row]})`).call(d3.axisBottom(x).tickSize(4).tickFormat(""));
    xa.select("path.domain").remove();
    styleAxis(xa, { line: "#555" });
    facetCatLabels.forEach((lab, k) => txt(g, x(facetCats[k]), fBottom[row] + 10, lab, { size: 17.5, anchor: "end", rotate: -90, fill: "#111" }));
    txt(g, x("MPO") + 18, 507, "progenitors", { size: 17.5, anchor: "middle", rotate: -90, fill: "#111" });
  }
});
txt(svg, 1429, 235, "Normalized protein expression", { size: 21.3, anchor: "middle", rotate: -90 });

// ---------- c
function drawAnnotated(top, bottom, title, titleY, fills, dots, labels, links) {
  const g = svg.append("g");
  const x = d3.scaleLinear().domain([-14.5, 8.3]).range([1447, 1707]);
  const y = d3.scaleLinear().domain([15, -10]).range([top, top + 266]);
  drawCells(g, x, y, fills, dots, 3);
  (links || []).forEach(l => g.append("line").attr("x1", x(l[0][0])).attr("y1", y(l[0][1])).attr("x2", x(l[1][0])).attr("y2", y(l[1][1])).attr("stroke", l[2]).attr("stroke-width", 1));
  const ya = g.append("g").attr("transform", "translate(1447,0)").call(d3.axisLeft(y).tickValues([-10, -5, 0, 5, 10, 15]).tickSize(3));
  ya.select("path.domain").attr("d", `M0,${top - 2}V${bottom}`);
  const xa = g.append("g").attr("transform", `translate(0,${bottom})`).call(d3.axisBottom(x).tickValues([-10, -5, 0, 5]).tickSize(3));
  styleAxis(ya, { size: 9.5, fill: "#444", line: "#000", width: 1.6 });
  styleAxis(xa, { size: 9.5, fill: "#444", line: "#000", width: 1.6, off: 9 });
  txt(g, 1448, titleY, title, { size: 12.5 });
  txt(g, 1419, top + 141, "UMAP_2", { size: 11.5, anchor: "middle", rotate: -90 });
  txt(g, 1577, bottom + 20, "UMAP_1", { size: 11.5, anchor: "middle" });
  labels.forEach(l => {
    const lg = g.append("g");
    const t = txt(lg, x(l[1]), y(l[2]), l[0], { size: 9.3, anchor: "middle", fill: l[3] });
    const w = t.node().getComputedTextLength() + 8;
    lg.insert("rect", "text").attr("x", x(l[1]) - w / 2).attr("y", y(l[2]) - 7).attr("width", w).attr("height", 14).attr("rx", 2)
      .attr("fill", "#fff").attr("fill-opacity", .85).attr("stroke", l[3]).attr("stroke-width", 1);
  });
}
drawAnnotated(633, 916, "Broad annotations", 620, fillsBroad, dotsBroad, labelsBroad, linksBroad);
drawAnnotated(974, 1264, "SingleR Blueprint", 961, fillsBlueprint, dotsBlueprint, labelsBlueprint);

// ---------- d
function drawGroup(left, right, bottom, top, dom, ticks, rangeY, pts, boxes, yTitle, titleX, title, titleY) {
  const g = svg.append("g");
  const x = d3.scalePoint().domain(groupCats).range([left, right]).padding(.6);
  const y = d3.scaleLinear().domain(dom).range(rangeY);
  const band = x.step();
  boxes.forEach((s, k) => {
    const cx = x(groupCats[k]), bw = band * .75;
    g.append("line").attr("x1", cx).attr("x2", cx).attr("y1", y(s[0])).attr("y2", y(s[4])).attr("stroke", "#444").attr("stroke-width", 1);
    g.append("rect").attr("x", cx - bw / 2).attr("width", bw).attr("y", y(s[3])).attr("height", y(s[1]) - y(s[3])).attr("fill", "#fff").attr("stroke", "#444").attr("stroke-width", 1);
    g.append("line").attr("x1", cx - bw / 2).attr("x2", cx + bw / 2).attr("y1", y(s[2])).attr("y2", y(s[2])).attr("stroke", "#444").attr("stroke-width", 1);
  });
  pts.forEach((list, k) => {
    g.selectAll(null).data(list).join("circle")
      .attr("cx", d => x(groupCats[k]) + d[0] * band).attr("cy", d => y(d[1])).attr("r", 4.6).attr("fill", groupColours[k]);
  });
  const ya = g.append("g").attr("transform", `translate(${left},0)`).call(d3.axisLeft(y).tickValues(ticks).tickSize(3).tickFormat(d3.format(ticks[1] - ticks[0] < 1 ? ".1f" : "d")));
  ya.select("path.domain").attr("d", `M0,${top}V${bottom}`);
  const xa = g.append("g").attr("transform", `translate(0,${bottom})`).call(d3.axisBottom(x).tickSize(3));
  xa.select("path.domain").attr("d", `M${left},0H${right}`);
  styleAxis(ya, { size: 14.5, fill: "#4d4d4d", line: "#333" });
  styleAxis(xa, { size: 15, fill: "#4d4d4d", line: "#333", off: 11 });
  yTitle.forEach((s, k) => txt(g, titleX + k * 20, (top + bottom) / 2 + 2, s, { size: 14, anchor: "middle", rotate: -90 }));
  if (title) txt(g, (left + right) / 2, titleY, title, { size: 15.3, anchor: "middle" });
}
drawGroup(1801, 1944, 917, 654, [0, 30], [0, 10, 20, 30], [912, 654], lymphPts, lymphBox, ["Proportion of all cells (%)"], 1762, "Lymphocytes", 634);
drawGroup(2014, 2158, 917, 653, [60, 90], [60, 70, 80, 90], [911, 713], neutPts, neutBox, ["Proportion of all cells (%)"], 1978, "Neutrophils", 636);
drawGroup(1804, 1943, 1227, 956, [0, 2], [0, .5, 1, 1.5, 2], [1214, 998], drb1Pts, drb1Box, ["cMono median HLA-DRB1", "gene expression"], 1750, null);
drawGroup(2015, 2165, 1227, 956, [1, 3], [1, 2, 3], [1196, 1016], draPts, draBox, ["cMono median HLA-DRA", "gene expression"], 1967, null);

// ---------- e
{
  const g = svg.append("g");
  const x = d3.scaleLinear().domain([-14.67, 8.3]).range([74, 343]);
  const y = d3.scaleLinear().domain([15, -10]).range([777, 1107]);
  drawCells(g, x, y, fillsClusters, null, 1);
  const ya = g.append("g").attr("transform", "translate(74,0)").call(d3.axisLeft(y).tickValues([-10, -5, 0, 5, 10, 15]).tickSize(3));
  ya.select("path.domain").attr("d", "M0,775V1128");
  const xa = g.append("g").attr("transform", "translate(0,1128)").call(d3.axisBottom(x).tickValues([-10, -5, 0, 5]).tickSize(3));
  styleAxis(ya, { size: 11 }); styleAxis(xa, { size: 11, off: 10 });
  txt(g, 226, 1157, "UMAP_1", { size: 13, anchor: "middle" });
  txt(g, 44, 932, "UMAP_2", { size: 13, anchor: "middle", rotate: -90 });
  clusterLabels.forEach(c => txt(g, x(c[1]), y(c[2]), c[0], { size: 12.7, anchor: "middle", fill: "#111" }));
  // ggplot hue legend
  d3.range(33).forEach(i => {
    const c = i < 17 ? 0 : 1, r = i < 17 ? i : i - 17;
    g.append("circle").attr("cx", c ? 398 : 358).attr("cy", 830 + r * 14.53).attr("r", 3.4).attr("fill", d3.hcl(15 + i * 360 / 33, 100, 65).formatHex());
    txt(g, c ? 412 : 371, 830 + r * 14.53, i, { size: 10.8 });
  });

  const arc = d3.line().curve(d3.curveNatural);
  g.append("path").attr("d", arc([[312, 818], [360, 762], [410, 742], [464, 736], [520, 748], [573, 777]]))
    .attr("fill", "none").attr("stroke", "#666").attr("stroke-width", 5).attr("stroke-dasharray", "25 17");
  g.append("path").attr("d", "M620,818L601,782L597,795L581,803Z").attr("fill", "#666");
  txt(g, 464, 771, "Clustering resolutions", { size: 17.5, anchor: "middle", fill: "#222" });
  txt(g, 464, 792, "0.8-1.1", { size: 17.5, anchor: "middle", fill: "#222" });
  txt(g, 614, 849, "Clustering metrics", { size: 24, anchor: "middle" });
  txt(g, 506, 1024, "Knowledge driven", { size: 24 });
  [[873, 973], [1045, 1086]].forEach(b => g.append("rect").attr("x", 500).attr("y", b[0]).attr("width", 256).attr("height", b[1] - b[0]).attr("rx", 17)
    .attr("fill", "none").attr("stroke", "#111").attr("stroke-width", 4.5).attr("stroke-dasharray", "13 9"));
  ["Cluster neighbourhood purity", "Average silhouette width", "Bootstrap adjusted Rand Index"].forEach((s, k) => txt(g, 507, 899 + k * 21, s, { size: 17.5, fill: "#222" }));
  txt(g, 507, 1066, "Cluster marker inspection", { size: 17.5, fill: "#222" });
  g.append("path").attr("d", "M772,903C795,903 790,915 790,940L790,960C790,975 795,980 806,982C795,984 790,990 790,1005L790,1030C790,1055 795,1063 772,1063")
    .attr("fill", "none").attr("stroke", "#111").attr("stroke-width", 7);
  ["Resolution", "selection &", "cluster", "merging"].forEach((s, k) => txt(g, 862, 947 + k * 21, s, { size: 17.5, anchor: "middle", fill: "#222" }));
  g.append("path").attr("d", "M928,979H968").attr("stroke", "#111").attr("stroke-width", 5);
  g.append("path").attr("d", "M981,979L962,968L966,979L962,990Z").attr("fill", "#111");
  txt(g, 1065, 787, "Fine annotations", { size: 18, anchor: "middle", fill: "#222" });
  txt(g, 1065, 808, "(Fig. 1b)", { size: 18, anchor: "middle", fill: "#222" });

  const fx = d3.scaleLinear().domain([0, 1]).range([1207, 1222.5]);
  const fy = d3.scaleLinear().domain([0, 1]).range([970, 958.1]);
  const fine = g.append("g").attr("opacity", .9);
  drawCells(fine, fx, fy, fillsFine, null, 1);
  fineLabels.forEach(c => txt(g, fx(c[1]), fy(c[2]), c[0], { size: 8.6, anchor: "middle", fill: "#222" }));
  drawAxisCorner(g, 1005, 1098, 1039, 1066, 989, 1075, 1028, 1118, 14, "#444");
}

// ---------- heatmaps f g h i
const heatLevelColours = [null, "#5f2370", "#120a14", "#5d5a24", "#9f9b35", "#cfa35e", "#d8d040", "#f5e71d"];
function drawHeat(genes, levels, base, left, right, top, bottom) {
  const g = svg.append("g").attr("shape-rendering", "crispEdges");
  const y = d3.scaleBand().domain(genes).range([top, bottom]);
  const gx = d3.scaleBand().domain(d3.range(7)).range([left, right]).paddingInner(.03);
  levels.forEach((row, r) => {
    row.split(" ").forEach((block, c) => {
      const cells = block.padEnd(12, "0").split("");
      const x = d3.scaleBand().domain(d3.range(12)).range([gx(c), gx(c) + gx.bandwidth()]);
      const bw = x.bandwidth();
      g.append("rect").attr("x", gx(c)).attr("y", y(genes[r])).attr("width", gx.bandwidth()).attr("height", y.bandwidth() + .3).attr("fill", base);
      // only the yellow runs fill their whole cell, other cells read as thin stripes
      g.selectAll(null).data(cells.map((d, k) => [d, k]).filter(d => d[0] !== "0")).join("rect")
        .attr("x", d => x(d[1]) + (d[0] === "7" ? 0 : bw * .2)).attr("y", y(genes[r]))
        .attr("width", d => d[0] === "7" ? bw + .3 : bw * .55).attr("height", y.bandwidth() + .3)
        .attr("fill", d => heatLevelColours[+d[0]]);
    });
  });
  genes.forEach(n => txt(svg, left - 3, y(n) + y.bandwidth() / 2, n, { size: 10.4, anchor: "end", italic: true, fill: "#222" }));
  return gx;
}
function heatHeader(gx, barY, starts, endY, secondX) {
  heatGroups.forEach((n, i) => {
    svg.append("rect").attr("x", gx(i)).attr("y", barY).attr("width", gx.bandwidth()).attr("height", 5).attr("fill", heatGroupColours[i]);
    txt(svg, starts[i], endY, n, { size: 13.2, rotate: -44, fill: "#222" });
  });
  txt(svg, secondX, endY, "progenitors", { size: 13.2, rotate: -44, fill: "#222" });
}
function heatLegend(x, y, h, labels, labelYs) {
  txt(svg, x, y, "Scaled", { size: 11.5, fill: "#222" });
  txt(svg, x, y + 13, "expression", { size: 11.5, fill: "#222" });
  const id = "pg" + (gradId++);
  const lg = defs.append("linearGradient").attr("id", id).attr("x1", 0).attr("y1", 1).attr("x2", 0).attr("y2", 0);
  [["0%", "#9a4aab"], ["40%", "#7a2a8a"], ["58%", "#0d0a0d"], ["100%", "#f5e71d"]].forEach(s => lg.append("stop").attr("offset", s[0]).attr("stop-color", s[1]));
  svg.append("rect").attr("x", x).attr("y", y + 25).attr("width", 10).attr("height", h).attr("fill", `url(#${id})`);
  labels.forEach((l, k) => txt(svg, x + 15, labelYs[k], l, { size: 11.5, fill: "#222" }));
}
const gxF = drawHeat(genesF, levelsF, "#8b3f9b", 122, 598, 1290, 1515);
drawHeat(genesG, levelsG, "#3a1245", 122, 598, 1537, 1760);
const gxH = drawHeat(genesH, levelsH, "#90489d", 775, 1245, 1292, 1515);
drawHeat(genesI, levelsI, "#7a2b8a", 775, 1245, 1539, 1762);
heatHeader(gxF, 1281, [156, 225, 291, 362, 429, 494, 565], 1278, 522);
heatHeader(gxH, 1283, [806, 876, 940, 1010, 1077, 1143, 1212], 1280, 1166);
heatLegend(614, 1367, 47, ["2.5", "2.0", "1.5", "1.0", "0.5", "0.0", "\u22120.5"], [1393, 1401, 1409, 1417, 1425, 1433, 1439]);
heatLegend(612, 1590, 48, ["2", "1", "0", "\u22121", "\u22122"], [1620, 1629, 1638, 1648, 1658]);
heatLegend(1275, 1365, 48, ["2.5", "2.0", "1.5", "1.0", "0.5", "0.0"], [1390, 1399, 1408, 1417, 1426, 1434]);
heatLegend(1273, 1597, 48, ["2", "1", "0"], [1625, 1640, 1654]);
const heatBlue = "#3fb7e0";
[[43, 1394, "*PADI4*^+^ immature Neu"], [60, 1394, "marker genes"], [43, 1658, "*IL1R2*^+^ immature Neu"], [60, 1658, "marker genes"], [688, 1406, "*MPO*^+^ immature Neu/progenitor"], [704, 1406, "marker genes"], [688, 1660, "Cycling Neu progenitor"], [704, 1660, "marker genes"]]
  .forEach(t => txt(svg, t[0], t[1], t[2], { size: 13.5, anchor: "middle", rotate: -90, fill: heatBlue }));

// ---------- j
{
  const g = svg.append("g");
  const x = d3.scaleLinear().domain([191, 600]).range([1493, 1693]);
  const y = d3.scaleLinear().domain([970, 104]).range([1613, 1325]);
  const blob = d3.line().x(d => x(d[0])).y(d => y(d[1])).curve(d3.curveCatmullRomClosed.alpha(.5));
  trajGridX.forEach(v => g.append("line").attr("x1", x(v)).attr("x2", x(v)).attr("y1", y(20)).attr("y2", y(970)).attr("stroke", "#ccc").attr("stroke-width", 1.5));
  trajGridY.forEach(v => g.append("line").attr("x1", x(75)).attr("x2", x(628)).attr("y1", y(v)).attr("y2", y(v)).attr("stroke", "#ccc").attr("stroke-width", 1.5));
  const lg = defs.append("linearGradient").attr("id", "trajj").attr("x1", 0).attr("y1", 0).attr("x2", 0).attr("y2", 1);
  [["0%", "#eb9c9c"], ["8%", "#dd5a5c"], ["48%", "#c8474a"], ["50%", "#8a5350"], ["85%", "#8e5f5c"], ["100%", "#b89a98"]].forEach(s => lg.append("stop").attr("offset", s[0]).attr("stop-color", s[1]));
  const cloud = g.append("g").attr("filter", "url(#rough)");
  cloud.append("path").attr("d", blob(trajOutline)).attr("fill", "url(#trajj)");
  cloud.append("path").attr("d", blob(trajOrange)).attr("fill", "#e8a870");
  cloud.append("path").attr("d", blob(trajPurple)).attr("fill", "#7f6bb0");
  cloud.append("path").attr("d", blob(trajGreen)).attr("fill", "#42ab85");
  cloud.append("path").attr("d", blob(trajBlue)).attr("fill", "#dbe8ee");
  const sl = d3.line().x(d => x(d[0])).y(d => y(d[1])).curve(d3.curveBasis);
  g.selectAll("path.sl").data(streamLines).join("path").attr("class", "sl").attr("d", sl).attr("fill", "none").attr("stroke", "#111").attr("stroke-width", .95);
  g.selectAll("path.head").data(streamHeads).join("path").attr("class", "head")
    .attr("d", d3.symbol(d3.symbolTriangle, 20)).attr("transform", d => `translate(${x(d[0])},${y(d[1])})`).attr("fill", "#000");
  drawAxisCorner(g, 1434, 1620, 1559, 1492, 1418, 1593, 1460, 1632, 13, "#444");
  trajLegend.forEach((s, i) => {
    g.append("circle").attr("cx", 1537).attr("cy", 1641 + i * 23).attr("r", 3.6).attr("fill", trajLegendColours[i]);
    txt(g, 1554, 1641 + i * 23, s, { size: 18.5, fill: "#111" });
  });
}

// ---------- k
{
  const g = svg.append("g");
  const x = d3.scaleLinear().domain([850, 1380]).range([1815, 2074]);
  const y = d3.scaleLinear().domain([930, 30]).range([1600, 1300]);
  const blob = d3.line().x(d => x(d[0])).y(d => y(d[1])).curve(d3.curveCatmullRomClosed.alpha(.5));
  const lg = defs.append("linearGradient").attr("id", "trajk").attr("x1", 0).attr("y1", 0).attr("x2", 0).attr("y2", 1);
  [["0%", "#e0333a"], ["38%", "#d92b34"], ["45%", "#8c5650"], ["100%", "#85504a"]].forEach(s => lg.append("stop").attr("offset", s[0]).attr("stop-color", s[1]));
  const cloud = g.append("g").attr("filter", "url(#rough)");
  cloud.append("path").attr("d", blob(kOutline)).attr("fill", "url(#trajk)");
  cloud.append("path").attr("d", blob(kOrange)).attr("fill", "#f08a2c");
  cloud.append("path").attr("d", blob(kPurple)).attr("fill", "#8a6fc0");
  cloud.append("path").attr("d", blob(kGreen)).attr("fill", "#2fa878");
  cloud.append("path").attr("d", blob(kWisp)).attr("fill", "#dde9f0");
  const ln = d3.line().x(d => x(d[0])).y(d => y(d[1]));
  kArrows.forEach(a => {
    g.append("path").attr("d", ln(a)).attr("stroke", "#111").attr("stroke-width", 2.5).attr("fill", "none");
    const ang = Math.atan2(y(a[1][1]) - y(a[0][1]), x(a[1][0]) - x(a[0][0])) * 180 / Math.PI + 90;
    g.append("path").attr("d", d3.symbol(d3.symbolTriangle, 50)).attr("transform", `translate(${x(a[1][0])},${y(a[1][1])}) rotate(${ang})`).attr("fill", "#111");
  });
  kNodes.forEach(n => g.append("circle").attr("cx", x(n[1])).attr("cy", y(n[2])).attr("r", n[3]).attr("fill", n[4]).attr("stroke", "#222").attr("stroke-width", n[3] > 20 ? 4 : 2.5));
  drawAxisCorner(g, 1822, 1613, 1553, 1879, 1805, 1587, 1847, 1625, 13, "#444");
}

// ---------- panel letters
[["a", 9, 10], ["b", 1424, 14], ["c", 1378, 619], ["d", 1750, 612], ["e", 9, 788], ["f", 7, 1253], ["g", 9, 1529], ["h", 686, 1253], ["i", 682, 1526], ["j", 1375, 1323], ["k", 1766, 1323]]
  .forEach(l => txt(svg, l[1], l[2], l[0], { size: 24, anchor: "middle" }));
</script>
</body>
</html>
